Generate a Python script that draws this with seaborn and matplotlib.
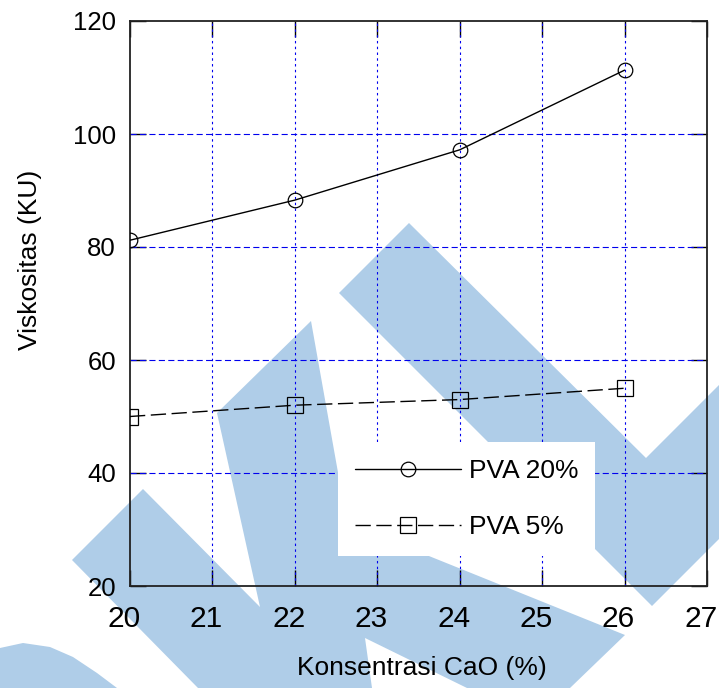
import matplotlib
matplotlib.use("Agg")
import matplotlib.pyplot as plt
import matplotlib.transforms as mtransforms
from matplotlib.patches import Polygon
import numpy as np
import pandas as pd
import seaborn as sns

# Data
cao = [20, 22, 24, 26]
pva20 = [81.2, 88.3, 97.2, 111.3]
pva5 = [50.0, 52.0, 53.0, 55.0]
series_labels = ["PVA 20%", "PVA 5%"]
x_ticks = [20, 21, 22, 23, 24, 25, 26, 27]
y_ticks = [20, 40, 60, 80, 100, 120]

sns.set_theme(style="white")
plt.rcParams["font.family"] = ["Liberation Sans", "DejaVu Sans"]

W, H = 719, 688
fig = plt.figure(figsize=(W / 100, H / 100), dpi=100)
fig.patch.set_facecolor("white")


def px(points):
    return [(x / W, 1 - y / H) for x, y in points]


# Background emblem shapes (light blue), drawn behind the axes
wm_color = "#AFCDE8"
shapes = [
    [(409, 223), (646, 458), (900, 204), (900, 358), (652, 606), (339, 293)],
    [(72, 560), (143, 489), (260, 607), (217, 413), (311, 321), (347, 523),
     (625, 635), (570, 688), (467, 688), (365, 638), (372, 688), (198, 688)],
    [(0, 648), (23, 643), (50, 647), (73, 657), (97, 673), (117, 688), (0, 688)],
]
for s in shapes:
    fig.patches.append(Polygon(px(s), closed=True, facecolor=wm_color,
                               edgecolor="none", transform=fig.transFigure,
                               zorder=-10))

ax = fig.add_axes([130 / W, 1 - 586 / H, (707 - 130) / W, (586 - 21) / H])
ax.set_facecolor("none")

df20 = pd.DataFrame({"cao": cao, "visk": pva20})
df5 = pd.DataFrame({"cao": cao, "visk": pva5})

sns.lineplot(data=df20, x="cao", y="visk", ax=ax, color="black", lw=1.0,
             marker="o", markersize=10.5, markerfacecolor="none",
             markeredgecolor="black", markeredgewidth=0.9,
             label=series_labels[0], zorder=5)
sns.lineplot(data=df5, x="cao", y="visk", ax=ax, color="black", lw=1.0,
             linestyle=(0, (11, 4)),
             marker="s", markersize=11.5, markerfacecolor="none",
             markeredgecolor="black", markeredgewidth=0.9,
             label=series_labels[1], zorder=5)

ax.set_xlim(20, 27)
ax.set_ylim(20, 120)
ax.set_xticks(x_ticks)
ax.set_yticks(y_ticks)
ax.set_xlabel("")
ax.set_ylabel("")

# Blue dashed grid
for xv in x_ticks[1:-1]:
    ax.axvline(xv, color="#0000EE", lw=0.8, linestyle=(0, (2.2, 3)), zorder=1)
for yv in y_ticks[1:-1]:
    ax.axhline(yv, color="#0000EE", lw=0.8, linestyle=(0, (5.5, 3)), zorder=1)

for sp in ax.spines.values():
    sp.set_color("#222222")
    sp.set_linewidth(1.3)
    sp.set_visible(True)

ax.tick_params(axis="both", which="major", direction="in", length=11.5,
               width=1.0, color="black", top=True, right=True,
               bottom=True, left=True)
ax.tick_params(axis="x", labelsize=21.5, pad=14, labelcolor="black")
ax.tick_params(axis="y", labelsize=18.5, pad=10, labelcolor="black")

# x tick labels sit slightly left of their ticks
shift = mtransforms.ScaledTranslation(-6 / 100, 0, fig.dpi_scale_trans)
for lbl in ax.get_xticklabels():
    lbl.set_transform(lbl.get_transform() + shift)

fig.text(422 / W, 1 - 668 / H, "Konsentrasi CaO (%)", fontsize=19,
         ha="center", va="center", color="black")
fig.text(30 / W, 1 - 260 / H, "Viskositas (KU)", fontsize=19,
         rotation=90, ha="center", va="center", color="black")

leg = ax.legend(loc="upper left", bbox_to_anchor=(338 / W, 1 - 442 / H),
                bbox_transform=fig.transFigure, borderaxespad=0,
                fontsize=19, frameon=True, framealpha=1, facecolor="white",
                edgecolor="none", fancybox=False, handlelength=4.0,
                handletextpad=0.3, borderpad=0.65, labelspacing=1.2)
leg.get_frame().set_linewidth(0)
for t in leg.get_texts():
    t.set_color("black")

fig.savefig("out.png", dpi=100, facecolor="white")
